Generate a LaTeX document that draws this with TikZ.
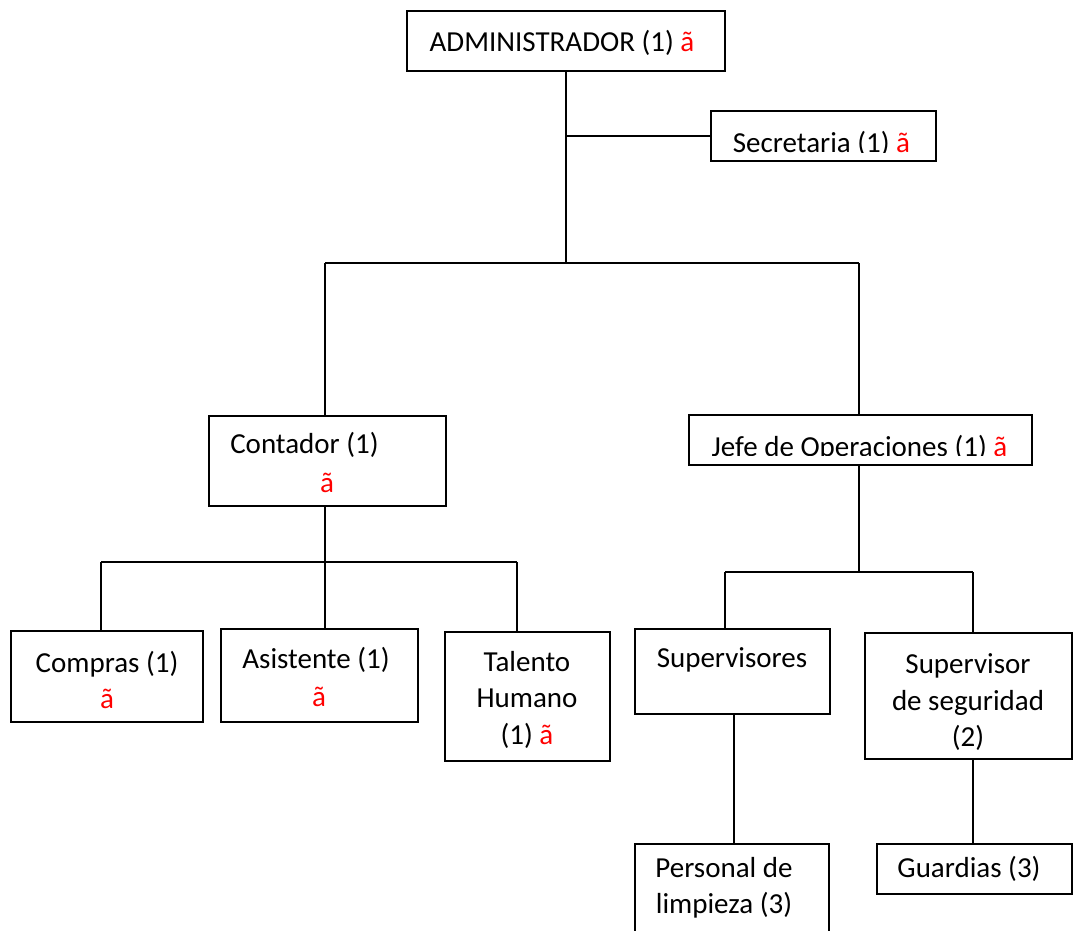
\documentclass[tikz,border=0pt]{standalone}
\usepackage{fontspec}
\setmainfont{Carlito}
\usetikzlibrary{calc}
\begin{document}
\begin{tikzpicture}[x=1pt,y=1pt,
  box/.style={draw=black, line width=1.3pt, rectangle, inner sep=0pt},
  lbl/.style={inner sep=0pt, anchor=base, font=\fontsize{29}{36.7}\selectfont},
  conn/.style={draw=black, line width=1.3pt}]
\clip (0,0) rectangle (1073,-931);
\useasboundingbox (0,0) rectangle (1073,-931);

% boxes
\node[box, minimum width=318pt, minimum height=60pt] (admin) at (566,-41) {};
\node[box, minimum width=225pt, minimum height=50pt] (sec) at (823.5,-136) {};
\node[box, minimum width=237pt, minimum height=90pt] (cont) at (327.5,-461) {};
\node[box, minimum width=343pt, minimum height=50pt] (jefe) at (860.5,-440) {};
\node[box, minimum width=192pt, minimum height=91pt] (comp) at (107,-676.5) {};
\node[box, minimum width=197pt, minimum height=93pt] (asis) at (319.5,-675.5) {};
\node[box, minimum width=165pt, minimum height=129pt] (tal) at (527.5,-696.5) {};
\node[box, minimum width=195pt, minimum height=85pt] (sup) at (732.5,-671.5) {};
\node[box, minimum width=207pt, minimum height=126pt] (seg) at (968.5,-696) {};
\node[box, minimum width=194pt, minimum height=116pt] (pers) at (732,-902) {};
\node[box, minimum width=195pt, minimum height=50pt] (guard) at (974.5,-869) {};

% texts
\node[lbl] (tadmin) at (562,-52) {ADMINISTRADOR (1) \textcolor{red}{ã}};
\begin{scope}
  \clip (711,-111) rectangle (936,-152);
  \node[lbl] (tsec) at (821.5,-152.5) {Secretaria (1) \textcolor{red}{ã}};
\end{scope}
\begin{scope}
  \clip (689,-415) rectangle (1032,-455);
  \node[lbl] (tjefe) at (859.5,-456) {Jefe de Operaciones (1) \textcolor{red}{ã}};
\end{scope}
\node[lbl] (tcont1) at (304.5,-453) {Contador (1)};
\node[lbl, text=red] (tcont2) at (327,-492) {ã};
\node[lbl] (tcomp1) at (107,-672) {Compras (1)};
\node[lbl, text=red] (tcomp2) at (107,-708) {ã};
\node[lbl] (tasis1) at (316,-668) {Asistente (1)};
\node[lbl, text=red] (tasis2) at (319,-706) {ã};
\node[lbl] (ttal1) at (527,-671) {Talento};
\node[lbl] (ttal2) at (527,-707) {Humano};
\node[lbl] (ttal3) at (527,-744) {(1) \textcolor{red}{ã}};
\node[lbl] (tsup) at (732,-667) {Supervisores};
\node[lbl] (tseg1) at (968,-673) {Supervisor};
\node[lbl] (tseg2) at (968,-710) {de seguridad};
\node[lbl] (tseg3) at (968,-746) {(2)};
\node[lbl] (tpers1) at (724,-877) {Personal de};
\node[lbl] (tpers2) at (724,-913) {limpieza (3)};
\node[lbl] (tguard) at (969,-877) {Guardias (3)};

% junction coordinates
\coordinate (j1) at (566,-263);
\coordinate (cL) at (325,-263);
\coordinate (jR) at (859,-263);
\coordinate (c1) at (101,-562);
\coordinate (c2) at (325,-562);
\coordinate (c3) at (517,-562);
\coordinate (s1) at (725,-572);
\coordinate (s2) at (973,-572);
\coordinate (p1) at (734,-844);
\coordinate (g1) at (973,-844);

% connectors
\draw[conn] (admin.south) -- (j1);
\draw[conn] (admin.south |- sec.west) -- (sec.west);
\draw[conn] (cL) -- (jR);
\draw[conn] (cL) -- (cL |- cont.north);
\draw[conn] (jR) -- (jR |- jefe.north);
\draw[conn] (c2 |- cont.south) -- (c2);
\draw[conn] (c1) -- (c3);
\draw[conn] (c1) -- (c1 |- comp.north);
\draw[conn] (c2) -- (c2 |- asis.north);
\draw[conn] (c3) -- (c3 |- tal.north);
\draw[conn] (jR |- jefe.south) -- (jR |- s1);
\draw[conn] (s1) -- (s2);
\draw[conn] (s1) -- (s1 |- sup.north);
\draw[conn] (s2) -- (s2 |- seg.north);
\draw[conn] (p1 |- sup.south) -- (p1);
\draw[conn] (g1 |- seg.south) -- (g1);
\end{tikzpicture}
\end{document}
